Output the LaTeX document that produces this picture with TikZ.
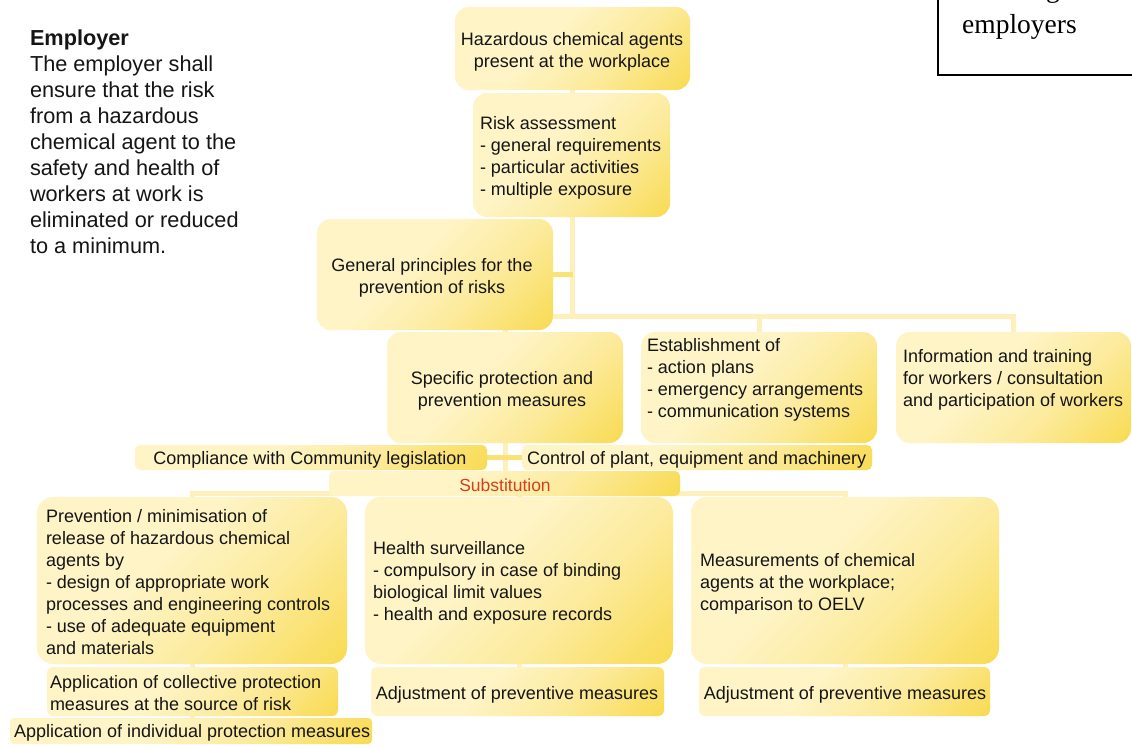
\documentclass[tikz,border=0pt]{standalone}
\usepackage{fontspec}
\setmainfont{Liberation Sans}
\newfontfamily\timesface{Liberation Serif}

\definecolor{boxpale}{HTML}{FEF4C6}
\definecolor{boxgold}{HTML}{F8DA50}
\definecolor{linkcol}{HTML}{FDF0BC}
\definecolor{stubcol}{HTML}{F9E276}
\definecolor{inkcol}{HTML}{151515}
\definecolor{subred}{HTML}{D4401C}

% pale-to-gold sweep used for every box
\pgfdeclarehorizontalshading{boxshade}{100bp}{%
  color(0bp)=(boxpale); color(42bp)=(boxpale); color(62bp)=(boxpale!65!boxgold);
  color(86bp)=(boxgold); color(100bp)=(boxgold)}

\tikzset{
  slot/.style={inner sep=0pt, outer sep=0pt, draw=none},
  link/.style={draw=linkcol, line width=5pt},
  stublink/.style={draw=stubcol, line width=5pt},
  txt/.style={inner sep=0pt, outer sep=0pt, text=inkcol, font=\fontsize{18}{22}\selectfont},
}

% shaded rounded box over the extent of a named slot node
\newcommand\shadebox[2]{%
  \shade[shading=boxshade, shading angle=-45, rounded corners=#2]
    (#1.south west) rectangle (#1.north east);}

\begin{document}
\begin{tikzpicture}[x=1pt, y=-1pt]
  \fill[white] (0,0) rectangle (1132,747);
  \useasboundingbox (0,0) rectangle (1132,747);

  % box extents
  \node[slot, minimum width=235pt, minimum height=83pt]  (top)    at (572.5,48.5) {};
  \node[slot, minimum width=197pt, minimum height=124pt] (risk)   at (571.5,155) {};
  \node[slot, minimum width=236pt, minimum height=111pt] (gen)    at (435,274.5) {};
  \node[slot, minimum width=236pt, minimum height=111pt] (spec)   at (505,387.5) {};
  \node[slot, minimum width=236pt, minimum height=111pt] (est)    at (759,387.5) {};
  \node[slot, minimum width=235pt, minimum height=111pt] (info)   at (1013.5,387.5) {};
  \node[slot, minimum width=352pt, minimum height=25pt]  (comp)   at (311,457.5) {};
  \node[slot, minimum width=350pt, minimum height=25pt]  (ctrl)   at (697,457.5) {};
  \node[slot, minimum width=351pt, minimum height=25pt]  (sub)    at (504.5,483.5) {};
  \node[slot, minimum width=310pt, minimum height=167pt] (prev)   at (192,580.5) {};
  \node[slot, minimum width=308pt, minimum height=167pt] (health) at (519,580.5) {};
  \node[slot, minimum width=308pt, minimum height=167pt] (meas)   at (845,580.5) {};
  \node[slot, minimum width=291pt, minimum height=49pt]  (coll)   at (192.5,691.5) {};
  \node[slot, minimum width=362pt, minimum height=26pt]  (indiv)  at (191,731) {};
  \node[slot, minimum width=293pt, minimum height=49pt]  (adj1)   at (517.5,691.5) {};
  \node[slot, minimum width=291pt, minimum height=49pt]  (adj2)   at (844.5,691.5) {};

  \coordinate (j1) at (572.5,316);
  \coordinate (j2) at (504.5,493.5);

  % connectors
  \draw[link] (top.south) -- (j1);
  \draw[link] (spec.north) -- (spec.north |- j1) -- (info.north |- j1) -- (info.north);
  \draw[link] (est.north |- j1) -- (est.north);
  \draw[stublink] (gen.east) -- (gen.east -| j1);
  \draw[link] (spec.south) -- (spec.south |- sub.north);
  \draw[stublink] (comp.east) -- (comp.east -| spec.south);
  \draw[stublink] (ctrl.west) -- (ctrl.west -| spec.south);
  \draw[link] (prev.north) -- (prev.north |- j2) -- (meas.north |- j2) -- (meas.north);
  \draw[link] (health.north |- j2) -- (health.north);
  \draw[link] (prev.south) -- (prev.south |- coll.north);
  \draw[link] (coll.south) -- (coll.south |- indiv.north);
  \draw[link] (health.south) -- (health.south |- adj1.north);
  \draw[link] (meas.south) -- (meas.south |- adj2.north);

  % boxes
  \shadebox{top}{14pt}
  \shadebox{risk}{14pt}
  \shadebox{gen}{14pt}
  \shadebox{spec}{14pt}
  \shadebox{est}{14pt}
  \shadebox{info}{14pt}
  \shadebox{comp}{5pt}
  \shadebox{ctrl}{5pt}
  \shadebox{sub}{5pt}
  \shadebox{prev}{16pt}
  \shadebox{health}{16pt}
  \shadebox{meas}{16pt}
  \shadebox{coll}{6pt}
  \shadebox{indiv}{4pt}
  \shadebox{adj1}{6pt}
  \shadebox{adj2}{6pt}

  % texts
  \node[txt, align=center] (top-t) at (572,52) {Hazardous chemical agents\\present at the workplace};
  \node[txt, align=left, anchor=west] (risk-t) at (480,158) {Risk assessment\\- general requirements\\- particular activities\\- multiple exposure};
  \node[txt, align=center] (gen-t) at (432,278) {General principles for the\\prevention of risks};
  \node[txt, align=center] (spec-t) at (502,391) {Specific protection and\\prevention measures};
  \node[txt, align=left, anchor=west] (est-t) at (647,380) {Establishment of\\- action plans\\- emergency arrangements\\- communication systems};
  \node[txt, align=left, anchor=west] (info-t) at (903,380) {Information and training\\for workers / consultation\\and participation of workers};
  \node[txt] (comp-t) at (310,459.5) {Compliance with Community legislation};
  \node[txt, anchor=west] (ctrl-t) at (527,459.5) {Control of plant, equipment and machinery};
  \node[txt, text=subred, font=\fontsize{17.5}{21}\selectfont] (sub-t) at (505,485) {Substitution};
  \node[txt, align=left, anchor=west] (prev-t) at (46,582) {Prevention / minimisation of\\release of hazardous chemical\\agents by\\- design of appropriate work\\processes and engineering controls\\- use of adequate equipment\\and materials};
  \node[txt, align=left, anchor=west] (health-t) at (373,583) {Health surveillance\\- compulsory in case of binding\\biological limit values\\- health and exposure records};
  \node[txt, align=left, anchor=west] (meas-t) at (700,584) {Measurements of chemical\\agents at the workplace;\\comparison to OELV};
  \node[txt, align=left, anchor=west] (coll-t) at (50,693.5) {Application of collective protection\\measures at the source of risk};
  \node[txt, anchor=west] (indiv-t) at (14,733) {Application of individual protection measures};
  \node[txt] (adj1-t) at (517,694.5) {Adjustment of preventive measures};
  \node[txt] (adj2-t) at (845,694.5) {Adjustment of preventive measures};

  % employer paragraph
  \node[txt, align=left, anchor=west, font=\fontsize{21.7}{26}\selectfont] (emp-t) at (30,141.5)
    {\textbf{Employer}\\The employer shall\\ensure that the risk\\from a hazardous\\chemical agent to the\\safety and health of\\workers at work is\\eliminated or reduced\\to a minimum.};

  % framed note at the top right
  \draw[line width=2pt, draw=black] (937.5,-20) -- (937.5,75) -- (1150,75);
  \node[inner sep=0pt, anchor=base west, font=\timesface\fontsize{27.5}{32}\selectfont] (note-g) at (1046,-3) {g};
  \node[inner sep=0pt, anchor=base west, font=\timesface\fontsize{27.5}{32}\selectfont] (note-t) at (962,33) {employers};
\end{tikzpicture}
\end{document}
